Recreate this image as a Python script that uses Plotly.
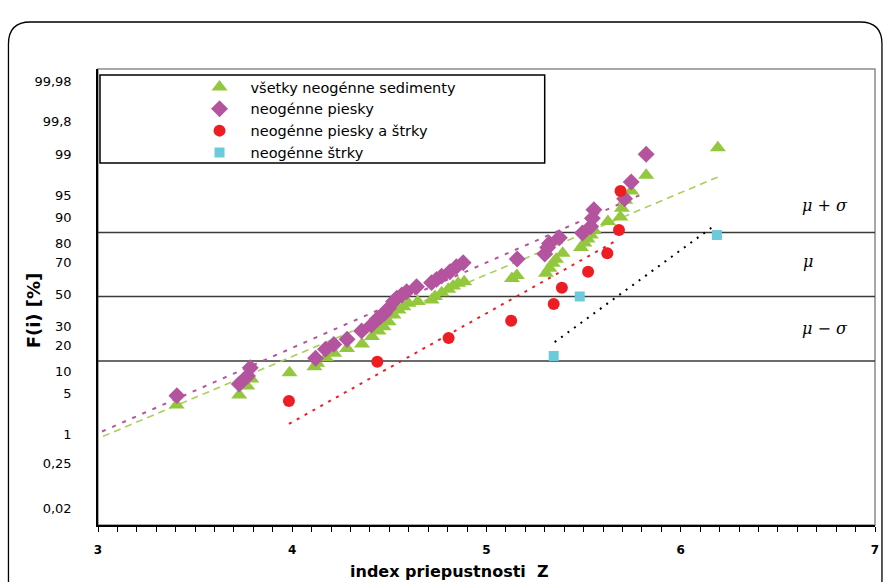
import plotly.graph_objects as go
from statistics import NormalDist

ND = NormalDist()

def z(p):
    return ND.inv_cdf(p / 100.0)

# ---------------- data (x = index priepustnosti Z, F = F(i) in %) ----------------
all_x = [3.405, 3.727, 3.768, 3.789, 3.986, 4.114, 4.128, 4.173, 4.216, 4.282,
         4.359, 4.410, 4.444, 4.470, 4.496, 4.521, 4.547, 4.572, 4.598, 4.646,
         4.717, 4.735, 4.769, 4.803, 4.828, 4.854, 4.885, 5.131, 5.156, 5.306,
         5.324, 5.341, 5.358, 5.392, 5.486, 5.504, 5.520, 5.537, 5.554, 5.625,
         5.689, 5.697, 5.714, 5.745, 5.822, 6.191]
all_F = [3.34, 4.78, 6.46, 8.06, 9.73, 11.56, 12.69, 14.81, 16.48, 18.52,
         20.58, 24.3, 27.25, 29.67, 32.6, 36.7, 39.86, 42.0, 44.2, 45.3,
         46.4, 48.6, 51.2, 53.4, 55.6, 57.4, 58.4, 60.5, 62.4, 63.7,
         66.8, 69.8, 72.0, 75.3, 78.2, 80.3, 82.1, 83.8, 85.6, 88.7,
         90.1, 92.4, 94.1, 95.7, 97.6, 99.25]

sand_x = [3.406, 3.727, 3.770, 3.784, 4.120, 4.171, 4.214, 4.282, 4.357, 4.408,
          4.436, 4.453, 4.475, 4.496, 4.521, 4.538, 4.564, 4.589, 4.640, 4.717,
          4.743, 4.769, 4.812, 4.845, 4.880, 5.158, 5.300, 5.315, 5.324, 5.375,
          5.494, 5.537, 5.545, 5.553, 5.711, 5.745, 5.822]
sand_F = [4.67, 6.89, 8.82, 11.24, 14.5, 18.2, 20.4, 22.9, 27.3, 30.6,
          34.0, 35.6, 37.8, 40.9, 45.3, 47.5, 49.7, 51.9, 55.1, 57.8,
          59.9, 62.0, 64.7, 67.8, 70.1, 72.2, 74.9, 78.2, 80.1, 82.7,
          84.6, 87.0, 89.7, 92.0, 94.4, 96.9, 99.0]

sandgravel_x = [3.983, 4.438, 4.805, 5.127, 5.346, 5.388, 5.523, 5.622, 5.682, 5.690]
sandgravel_F = [3.87, 13.2, 23.5, 33.2, 43.7, 54.5, 64.7, 75.3, 85.8, 95.7]

gravel_x = [5.346, 5.480, 6.186]
gravel_F = [15.4, 48.7, 83.8]

# trend lines (end points)
trend_all_x = [2.969, 6.191]
trend_all_F = [0.755, 97.43]
trend_sand_x = [2.969, 5.801]
trend_sand_F = [0.95, 95.2]
trend_sg_x = [3.983, 5.674]
trend_sg_F = [1.59, 81.7]
trend_gr_x = [5.351, 6.170]
trend_gr_F = [21.5, 87.2]

# reference levels mu+sigma, mu, mu-sigma (in %)
level_F = [84.8, 48.7, 13.5]
level_txt = ["<i>μ + σ</i>", "<i>μ</i>", "<i>μ − σ</i>"]
level_lab_F = [93.0, 70.6, 28.8]

names = ["všetky neogénne sedimenty", "neogénne piesky",
         "neogénne piesky a štrky", "neogénne štrky"]

ytick_pct = [0.02, 0.25, 1, 5, 10, 20, 30, 50, 70, 80, 90, 95, 99, 99.8, 99.98]
ytick_txt = ["0,02", "0,25", "1", "5", "10", "20", "30", "50", "70", "80",
             "90", "95", "99", "99,8", "99,98"]

# ---------------- styling ----------------
C_GREEN = "#93C83E"
C_GREEN_L = "#A6D05A"
C_PURPLE = "#B4549F"
C_RED = "#EE1D23"
C_CYAN = "#6CCBDA"

fig = go.Figure()

def tr_line(xs, Fs, color, dash, width=1.6):
    fig.add_trace(go.Scatter(x=xs, y=[z(v) for v in Fs], mode="lines",
                             line=dict(color=color, dash=dash, width=width),
                             showlegend=False, hoverinfo="skip"))

tr_line(trend_all_x, trend_all_F, C_GREEN_L, "7px,5px")
tr_line(trend_sand_x, trend_sand_F, C_PURPLE, "4px,7px", 2)
tr_line(trend_sg_x, trend_sg_F, C_RED, "3px,6px", 2)
tr_line(trend_gr_x, trend_gr_F, "#000000", "2px,6px", 2)

fig.add_trace(go.Scatter(x=all_x, y=[z(v) for v in all_F], mode="markers",
                         name=names[0],
                         marker=dict(symbol="triangle-up", size=14, color=C_GREEN)))
fig.add_trace(go.Scatter(x=sand_x, y=[z(v) for v in sand_F], mode="markers",
                         name=names[1],
                         marker=dict(symbol="diamond", size=13, color=C_PURPLE)))
fig.add_trace(go.Scatter(x=sandgravel_x, y=[z(v) for v in sandgravel_F], mode="markers",
                         name=names[2],
                         marker=dict(symbol="circle", size=12, color=C_RED)))
fig.add_trace(go.Scatter(x=gravel_x, y=[z(v) for v in gravel_F], mode="markers",
                         name=names[3],
                         marker=dict(symbol="square", size=10, color=C_CYAN)))

W, H = 889, 582
ML, MR, MT, MB = 98, 10, 69, 57
PW, PH = W - ML - MR, H - MT - MB

def px(xp):
    return (xp - ML) / PW

def py(yp):
    return (H - MB - yp) / PH

shapes = []
# outer rounded frame
l, r, t, b = px(8), px(886), py(22), py(640)
rx, ry = 22 / PW, 22 / PH
shapes.append(dict(type="path", xref="paper", yref="paper",
                   path=f"M {l},{b} L {l},{t-ry} Q {l},{t} {l+rx},{t} "
                        f"L {r-rx},{t} Q {r},{t} {r},{t-ry} L {r},{b}",
                   line=dict(color="#000000", width=1.3), layer="below"))
# plot area frame (grey)
shapes.append(dict(type="rect", xref="paper", yref="paper", x0=0, x1=1, y0=0, y1=1,
                   line=dict(color="#8c8c8c", width=1.5), layer="below"))
# mu / sigma levels
for f in level_F:
    shapes.append(dict(type="line", xref="paper", yref="y", x0=0, x1=1,
                       y0=z(f), y1=z(f), line=dict(color="#3a3a3a", width=1.5),
                       layer="below"))
# legend box
shapes.append(dict(type="rect", xref="paper", yref="paper",
                   x0=px(100), x1=px(547), y0=py(163), y1=py(75),
                   line=dict(color="#000000", width=1.5), fillcolor="white",
                   layer="below"))

annotations = []
for txt, f, xx in zip(level_txt, level_lab_F, [829, 812, 829]):
    annotations.append(dict(x=px(xx), y=z(f), xref="paper", yref="y", text=txt,
                            showarrow=False, xanchor="center", yanchor="middle",
                            font=dict(family="DejaVu Serif", size=16, color="#000")))
annotations.append(dict(x=px(451), y=py(571), xref="paper", yref="paper",
                        text="index priepustnosti\u00a0\u00a0Z", showarrow=False,
                        xanchor="center", yanchor="middle",
                        font=dict(family="DejaVu Sans", size=16, color="#000", weight="bold")))
annotations.append(dict(x=px(33), y=py(310), xref="paper", yref="paper",
                        text="F(i) [%]", showarrow=False, textangle=-90,
                        xanchor="center", yanchor="middle",
                        font=dict(family="DejaVu Sans", size=18, color="#000", weight="bold")))

fig.update_layout(
    width=W, height=H,
    margin=dict(l=ML, r=MR, t=MT, b=MB, pad=0),
    paper_bgcolor="white", plot_bgcolor="white",
    shapes=shapes, annotations=annotations,
    showlegend=True,
    legend=dict(x=px(189), y=py(71), xanchor="left", yanchor="top",
                bgcolor="rgba(0,0,0,0)", borderwidth=0,
                font=dict(family="DejaVu Sans", size=14.5, color="#000"),
                itemwidth=52, tracegroupgap=0),
    xaxis=dict(range=[3, 7], tickvals=[3, 4, 5, 6, 7], ticks="outside", ticklen=5,
               tickcolor="#000", tickwidth=1, showline=True, linecolor="#000",
               linewidth=1.5, showgrid=False, zeroline=False,
               minor=dict(dtick=0.1, ticks="outside", ticklen=5, tickcolor="#000",
                          showgrid=False),
               tickfont=dict(family="DejaVu Sans", size=12, color="#000", weight="bold"),
               ticklabelstandoff=8),
    yaxis=dict(range=[-3.823, 3.740], tickvals=[z(p) for p in ytick_pct],
               ticktext=ytick_txt, ticks="", showline=True, linecolor="#000",
               linewidth=1.5, showgrid=False, zeroline=False,
               tickfont=dict(family="DejaVu Sans", size=13, color="#000"),
               ticklabelstandoff=22),
)

fig.write_html("out.html", config={"displayModeBar": False},
               post_script="document.body.style.margin='0';document.body.style.padding='0';")
